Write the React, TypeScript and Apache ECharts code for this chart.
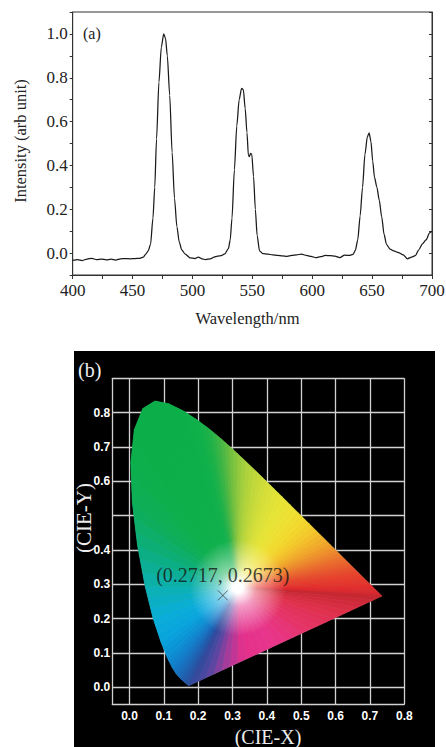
import React, { useEffect, useRef } from "react";
import * as echarts from "echarts";

// ---------- (a) emission spectrum ----------
const wavelengthNm = [
  400, 404, 408, 412, 416, 420, 424, 428, 432, 436, 440, 444, 448, 452, 456, 459, 461, 463, 465, 467,
  468.5, 470, 472, 474, 476, 477.5, 479, 481, 483, 485, 487, 489, 491, 494, 498, 502, 505, 508, 511, 515,
  518, 521, 524, 527, 530, 531.5, 533, 535, 537, 539, 541, 542.5, 544, 545.5, 546.7, 547.5, 548.5, 549.5,
  551, 552.5, 554, 556, 559, 563, 567, 571, 575, 579, 583, 587, 591, 595, 599, 603, 607, 611, 615, 619,
  623, 627, 631, 634, 636, 638, 640, 642, 644, 646, 647.5, 649, 650.5, 652, 654, 656, 658, 660, 662, 665,
  668, 672, 676, 679.5, 683, 686, 689, 692, 695, 698, 700,
];
const intensityArb = [
  -0.033, -0.03, -0.034, -0.027, -0.024, -0.03, -0.027, -0.031, -0.028, -0.032, -0.026, -0.025, -0.026,
  -0.025, -0.024, -0.018, -0.005, 0.01, 0.04, 0.16, 0.3, 0.52, 0.78, 0.94, 1.0, 0.98, 0.9, 0.72, 0.46, 0.25,
  0.12, 0.05, 0.015, -0.005, -0.022, -0.025, -0.018, -0.026, -0.03, -0.026, -0.018, -0.014, -0.012, -0.004,
  0.02, 0.06, 0.16, 0.38, 0.58, 0.7, 0.752, 0.745, 0.66, 0.55, 0.445, 0.44, 0.455, 0.452, 0.35, 0.2, 0.08,
  0.01, -0.003, -0.005, -0.008, -0.01, -0.013, -0.015, -0.011, -0.008, -0.005, -0.01, -0.015, -0.021, -0.016,
  -0.011, -0.012, -0.014, -0.021, -0.009, -0.011, -0.006, 0.012, 0.06, 0.17, 0.3, 0.45, 0.53, 0.549, 0.51,
  0.42, 0.345, 0.3, 0.24, 0.165, 0.085, 0.04, 0.018, 0.01, 0.002, -0.008, -0.026, -0.018, -0.012, 0.015,
  0.042, 0.06, 0.092, 0.1,
];

// ---------- (b) CIE 1931 chromaticity diagram ----------
const cieWavelengths = [
  380, 420, 440, 450, 455, 460, 465, 470, 475, 480, 485, 490, 495, 500, 505, 510, 515, 520, 525, 530, 535,
  540, 545, 550, 555, 560, 565, 570, 575, 580, 585, 590, 595, 600, 605, 610, 620, 630, 640, 660, 700,
];
const cieLocusX = [
  0.1741, 0.1714, 0.1644, 0.1566, 0.151, 0.144, 0.1355, 0.1241, 0.1096, 0.0913, 0.0687, 0.0454, 0.0235,
  0.0082, 0.0039, 0.0139, 0.0389, 0.0743, 0.1142, 0.1547, 0.1929, 0.2296, 0.2658, 0.3016, 0.3373, 0.3731,
  0.4087, 0.4441, 0.4788, 0.5125, 0.5448, 0.5752, 0.6029, 0.627, 0.6482, 0.6658, 0.6915, 0.7079, 0.719,
  0.73, 0.7347,
];
const cieLocusY = [
  0.005, 0.0051, 0.0109, 0.0177, 0.0227, 0.0297, 0.0399, 0.0578, 0.0868, 0.1327, 0.2007, 0.295, 0.4127,
  0.5384, 0.6548, 0.7502, 0.812, 0.8338, 0.8262, 0.8059, 0.7816, 0.7543, 0.7243, 0.6923, 0.6589, 0.6245,
  0.5896, 0.5547, 0.5202, 0.4866, 0.4544, 0.4242, 0.3965, 0.3725, 0.3514, 0.334, 0.3083, 0.292, 0.2809,
  0.27, 0.2653,
];
const cieLocusColors = [
  "#2c4a9c", "#2a4c9e", "#2650a4", "#2058ac", "#1c5eb2", "#1866ba", "#1470c2", "#107ecc", "#0c90d6",
  "#08a4de", "#0aaed8", "#0cb0b0", "#0cae7c", "#0cae58", "#0baf4c", "#0baf4a", "#0baf4a", "#0baf4a",
  "#0baf4a", "#0baf4a", "#0eb04a", "#1cb148", "#44b644", "#7cc23e", "#a8d03c", "#c4d93a", "#d8e038",
  "#e6e436", "#eee232", "#f4d82c", "#f4c42a", "#f2a82a", "#ee8a2c", "#ec6c2c", "#ea562c", "#e8462c",
  "#e6362c", "#e42e2c", "#e0282c", "#d8262e", "#c4262e",
];
const purpleLineStops = [0, 0.2, 0.4, 0.55, 0.72, 0.82, 0.9, 1];
const purpleLineColors = ["#c4262e", "#e0304a", "#e6346c", "#e8348a", "#e4308c", "#a03c9c", "#5a46a2", "#2c4a9c"];
const whitePoint = [0.315, 0.29];
const samplePoint = [0.2717, 0.2673];
const cieTickX = [0, 0.1, 0.2, 0.3, 0.4, 0.5, 0.6, 0.7, 0.8];
const cieTickY = [0, 0.1, 0.2, 0.3, 0.4, 0.5, 0.6, 0.7, 0.8, 0.9];
const cieLabelY = [0, 0.1, 0.2, 0.3, 0.4, 0.6, 0.7, 0.8];

function hexToRgb(h: string) {
  const n = parseInt(h.slice(1), 16);
  return [(n >> 16) & 255, (n >> 8) & 255, n & 255];
}
function mix(a: string, b: string, t: number) {
  const A = hexToRgb(a);
  const B = hexToRgb(b);
  const c = A.map((v, i) => Math.round(v + (B[i] - v) * t));
  return "#" + c.map((v) => v.toString(16).padStart(2, "0")).join("");
}
function purpleColorAt(t: number) {
  for (let i = 0; i < purpleLineStops.length - 1; i++) {
    const a = purpleLineStops[i];
    const b = purpleLineStops[i + 1];
    if (t <= b) return mix(purpleLineColors[i], purpleLineColors[i + 1], (t - a) / (b - a));
  }
  return purpleLineColors[purpleLineColors.length - 1];
}

export default function App() {
  const ref = useRef<HTMLDivElement>(null);
  useEffect(() => {
    if (!ref.current) return;
    const chart = echarts.init(ref.current, null, { renderer: "svg" });

    // boundary pieces of the horseshoe (spectral locus + line of purples)
    const segData: number[][] = [];
    const segFill: string[] = [];
    const SUB = 3;
    for (let i = 0; i < cieWavelengths.length - 1; i++) {
      for (let s = 0; s < SUB; s++) {
        const t0 = s / SUB;
        const t1 = (s + 1) / SUB;
        segData.push([
          cieLocusX[i] + (cieLocusX[i + 1] - cieLocusX[i]) * t0,
          cieLocusY[i] + (cieLocusY[i + 1] - cieLocusY[i]) * t0,
          cieLocusX[i] + (cieLocusX[i + 1] - cieLocusX[i]) * t1,
          cieLocusY[i] + (cieLocusY[i + 1] - cieLocusY[i]) * t1,
        ]);
        segFill.push(mix(cieLocusColors[i], cieLocusColors[i + 1], (t0 + t1) / 2));
      }
    }
    const last = cieWavelengths.length - 1;
    const N = 24;
    for (let k = 0; k < N; k++) {
      const t0 = k / N;
      const t1 = (k + 1) / N;
      segData.push([
        cieLocusX[last] + (cieLocusX[0] - cieLocusX[last]) * t0,
        cieLocusY[last] + (cieLocusY[0] - cieLocusY[last]) * t0,
        cieLocusX[last] + (cieLocusX[0] - cieLocusX[last]) * t1,
        cieLocusY[last] + (cieLocusY[0] - cieLocusY[last]) * t1,
      ]);
      segFill.push(purpleColorAt((t0 + t1) / 2));
    }

    const serif = "'Liberation Serif', 'Times New Roman', serif";
    const axisColor = "#333";
    const gridColor = "#d2d2d2";

    const option: any = {
      animation: false,
      backgroundColor: "#ffffff",
      grid: [
        { left: 72.7, top: 12, width: 359.3, height: 263, show: true, borderColor: axisColor, borderWidth: 1, backgroundColor: "transparent", outerBoundsMode: "none" },
        { left: 112.3, top: 378.3, width: 292, height: 326, show: false, outerBoundsMode: "none" },
      ],
      xAxis: [
        {
          gridIndex: 0, type: "value", min: 400, max: 700, interval: 25,
          axisLine: { onZero: false, lineStyle: { color: axisColor, width: 1 } },
          axisTick: { show: true, length: 4, lineStyle: { color: axisColor } },
          axisLabel: {
            formatter: (v: number) => (v % 50 === 0 ? String(v) : ""),
            fontFamily: serif, fontSize: 17, color: "#222", margin: 7, showMinLabel: true, showMaxLabel: true,
          },
          splitLine: { show: false },
        },
        {
          gridIndex: 1, type: "value", min: -0.05, max: 0.8,
          axisLine: { onZero: false, lineStyle: { color: gridColor, width: 1.3 } },
          axisTick: { show: false, customValues: cieTickX },
          axisLabel: {
            customValues: cieTickX, formatter: (v: number) => v.toFixed(1), color: "#ffffff",
            fontWeight: "bold", fontSize: 12, fontFamily: "'Liberation Sans', Arial, sans-serif", margin: 6,
          },
          splitLine: { show: true, lineStyle: { color: gridColor, width: 1.3 } },
        },
      ],
      yAxis: [
        {
          gridIndex: 0, type: "value", min: -0.1, max: 1.1, interval: 0.1,
          axisLine: { show: true, onZero: false, lineStyle: { color: axisColor, width: 1 } },
          axisTick: { show: true, length: 3, lineStyle: { color: axisColor } },
          axisLabel: {
            formatter: (v: number) => {
              const k = Math.round(v * 10);
              return k >= 0 && k <= 10 && k % 2 === 0 ? (k / 10).toFixed(1) : "";
            },
            fontFamily: serif, fontSize: 17, color: "#222", margin: 5,
          },
          splitLine: { show: false },
        },
        {
          gridIndex: 0, type: "value", position: "right", min: -0.1, max: 1.1, interval: 0.1,
          axisLine: { show: true, onZero: false, lineStyle: { color: axisColor, width: 1 } },
          axisTick: { show: true, inside: true, length: 3, lineStyle: { color: axisColor } },
          axisLabel: { show: false },
          splitLine: { show: false },
        },
        {
          gridIndex: 1, type: "value", min: -0.05, max: 0.9,
          axisLine: { show: true, onZero: false, lineStyle: { color: gridColor, width: 1.3 } },
          axisTick: { show: false, customValues: cieTickY },
          axisLabel: {
            customValues: cieLabelY, formatter: (v: number) => v.toFixed(1), color: "#ffffff",
            fontWeight: "bold", fontSize: 12, fontFamily: "'Liberation Sans', Arial, sans-serif", margin: 2,
          },
          splitLine: { show: true, lineStyle: { color: gridColor, width: 1.3 } },
        },
      ],
      graphic: [
        { type: "rect", z: -10, silent: true, shape: { x: 74, y: 351, width: 361, height: 396 }, style: { fill: "#000000" } },
        { type: "text", x: 83, y: 33, style: { text: "(a)", font: `16px ${serif}`, fill: "#222", align: "left", verticalAlign: "middle" } },
        { type: "text", x: 247.5, y: 318, style: { text: "Wavelength/nm", font: `16.5px ${serif}`, fill: "#222", align: "center", verticalAlign: "middle" } },
        { type: "text", x: 20, y: 141, rotation: Math.PI / 2, style: { text: "Intensity (arb unit)", font: `16.5px ${serif}`, fill: "#222", align: "center", verticalAlign: "middle" } },
        { type: "text", x: 78, y: 370, style: { text: "(b)", font: `20px ${serif}`, fill: "#f0f0f0", align: "left", verticalAlign: "middle" } },
        { type: "text", x: 268, y: 737, style: { text: "(CIE-X)", font: `20px ${serif}`, fill: "#ececec", align: "center", verticalAlign: "middle" } },
        { type: "text", x: 84, y: 518, rotation: Math.PI / 2, style: { text: "(CIE-Y)", font: `21px ${serif}`, fill: "#ececec", align: "center", verticalAlign: "middle" } },
      ],
      series: [
        {
          type: "line", xAxisIndex: 0, yAxisIndex: 0,
          data: wavelengthNm.map((w, i) => [w, intensityArb[i]]),
          showSymbol: false, smooth: 0.25, smoothMonotone: "x",
          lineStyle: { color: "#1a1a1a", width: 1.25 },
          z: 3,
        },
        {
          // base layer under the shading wedges: whole horseshoe, white at the centre
          type: "custom", xAxisIndex: 1, yAxisIndex: 2, coordinateSystem: "cartesian2d",
          data: [whitePoint], silent: true, z: 1,
          renderItem: (params: any, api: any) => {
            const w = api.coord([api.value(0), api.value(1)]);
            const pts = cieLocusX.map((x, i) => api.coord([x, cieLocusY[i]]));
            const u = (api.coord([0.8, 0])[0] - api.coord([0, 0])[0]) / 0.8;
            const R = 0.5 * u;
            return {
              type: "polygon",
              shape: { points: pts },
              style: {
                fill: new echarts.graphic.RadialGradient(w[0], w[1], R, [
                  { offset: 0, color: "#ffffff" },
                  { offset: 0.12, color: "#f4f4f4" },
                  { offset: 0.35, color: "#8fb89a" },
                  { offset: 1, color: "#3a9a5a" },
                ], true),
              },
            };
          },
        },
        {
          type: "custom", xAxisIndex: 1, yAxisIndex: 2, coordinateSystem: "cartesian2d",
          data: segData, silent: true, z: 2,
          renderItem: (params: any, api: any) => {
            const i = params.dataIndex;
            const w = api.coord(whitePoint);
            const p1 = api.coord([api.value(0), api.value(1)]);
            const p2 = api.coord([api.value(2), api.value(3)]);
            const u = (api.coord([0.8, 0])[0] - api.coord([0, 0])[0]) / 0.8;
            const mx = (p1[0] + p2[0]) / 2;
            const my = (p1[1] + p2[1]) / 2;
            const d = Math.hypot(mx - w[0], my - w[1]) || 1;
            const c = segFill[i];
            const o1 = Math.min(0.9, (0.015 * u) / d);
            const o2 = Math.min(0.93, Math.max(o1, (0.055 * u) / d));
            const o3 = Math.min(0.96, Math.max(o2, (0.14 * u) / d));
            const grad = new echarts.graphic.LinearGradient(
              w[0], w[1], mx, my,
              [
                { offset: 0, color: "#ffffff" },
                { offset: o1, color: "#ffffff" },
                { offset: o2, color: mix("#ffffff", c, 0.5) },
                { offset: o3, color: c },
                { offset: 1, color: c },
              ],
              true
            );
            return {
              type: "polygon",
              shape: { points: [w, p1, p2] },
              style: { fill: grad, stroke: grad, lineWidth: 0.6, lineJoin: "round" },
            };
          },
        },
        {
          type: "scatter", xAxisIndex: 1, yAxisIndex: 2, z: 5,
          data: [samplePoint],
          symbol: "path://M0,0L10,10M10,0L0,10",
          symbolSize: 10,
          itemStyle: { color: "rgba(0,0,0,0)", borderColor: "#444", borderWidth: 1 },
          label: {
            show: true, position: "top", distance: 5,
            formatter: () => `(${samplePoint[0]}, ${samplePoint[1]})`,
            fontFamily: serif, fontSize: 20, color: "#151515",
          },
        },
      ],
    };
    chart.setOption(option);
    return () => chart.dispose();
  }, []);
  return <div ref={ref} style={{ position: "fixed", left: 0, top: 0, width: 446, height: 747 }} />;
}
